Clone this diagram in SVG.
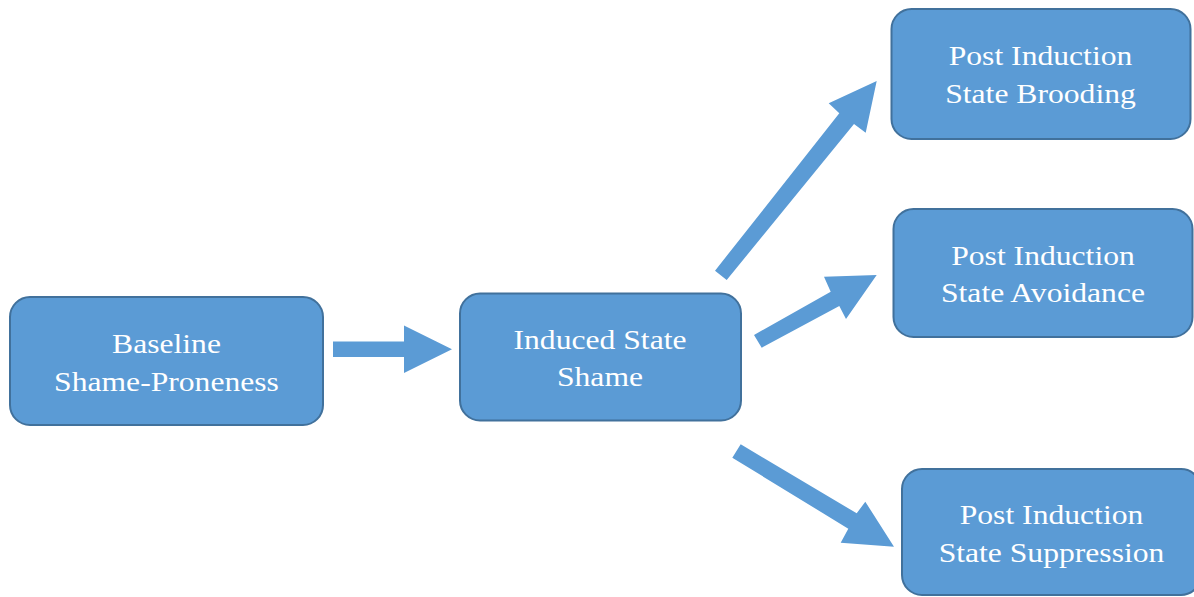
<svg xmlns="http://www.w3.org/2000/svg" width="1194" height="597" viewBox="0 0 1194 597">
  <style>
    .box { fill: #5B9BD5; stroke: #41719C; stroke-width: 2; }
    .lbl { fill: #FFFFFF; font-family: "Liberation Serif", "Times New Roman", serif; font-size: 28px; text-anchor: middle; }
    .arrow { fill: #5B9BD5; stroke: none; }
  </style>
  <rect width="1194" height="597" fill="#FFFFFF"/>

  <!-- block arrows between the stages -->
  <g id="connectors">
    <polygon class="arrow" points="333,341.5 404,341.5 404,325.5 452,349.3 404,373 404,357 333,357"/>
    <polygon class="arrow" points="715,270.7 839.3,113.3 828.7,103.3 876.7,81 865.7,132.7 854,124 726.7,280"/>
    <polygon class="arrow" points="754,335 830.7,291.7 824,276.7 876.7,275 846,319 839.3,306 761.7,347.7"/>
    <polygon class="arrow" points="740.7,444.3 856.7,513.3 865.3,501.7 894,546.7 840.7,542.7 848.3,528.7 732.3,457.7"/>
  </g>

  <!-- labels are set in a slightly widened serif -->
  <g id="baseline">
    <rect class="box" x="10" y="297" width="313" height="128" rx="20"/>
    <text class="lbl" transform="matrix(1.13 0 0 1 166.5 352.5)">Baseline</text>
    <text class="lbl" transform="matrix(1.13 0 0 1 166.5 390.5)">Shame-Proneness</text>
  </g>

  <g id="induced">
    <rect class="box" x="460" y="293.5" width="281" height="127" rx="20"/>
    <text class="lbl" transform="matrix(1.13 0 0 1 600 348.5)">Induced State</text>
    <text class="lbl" transform="matrix(1.13 0 0 1 600 386)">Shame</text>
  </g>

  <g id="brooding">
    <rect class="box" x="891.5" y="9" width="299" height="130" rx="20"/>
    <text class="lbl" transform="matrix(1.13 0 0 1 1040.5 65)">Post Induction</text>
    <text class="lbl" transform="matrix(1.13 0 0 1 1040.5 102.5)">State Brooding</text>
  </g>

  <g id="avoidance">
    <rect class="box" x="893.5" y="209" width="299" height="128" rx="20"/>
    <text class="lbl" transform="matrix(1.13 0 0 1 1043 265)">Post Induction</text>
    <text class="lbl" transform="matrix(1.13 0 0 1 1043 302)">State Avoidance</text>
  </g>

  <g id="suppression">
    <rect class="box" x="902" y="469" width="299" height="126" rx="20"/>
    <text class="lbl" transform="matrix(1.13 0 0 1 1051.5 523.5)">Post Induction</text>
    <text class="lbl" transform="matrix(1.13 0 0 1 1051.5 561.5)">State Suppression</text>
  </g>
</svg>
